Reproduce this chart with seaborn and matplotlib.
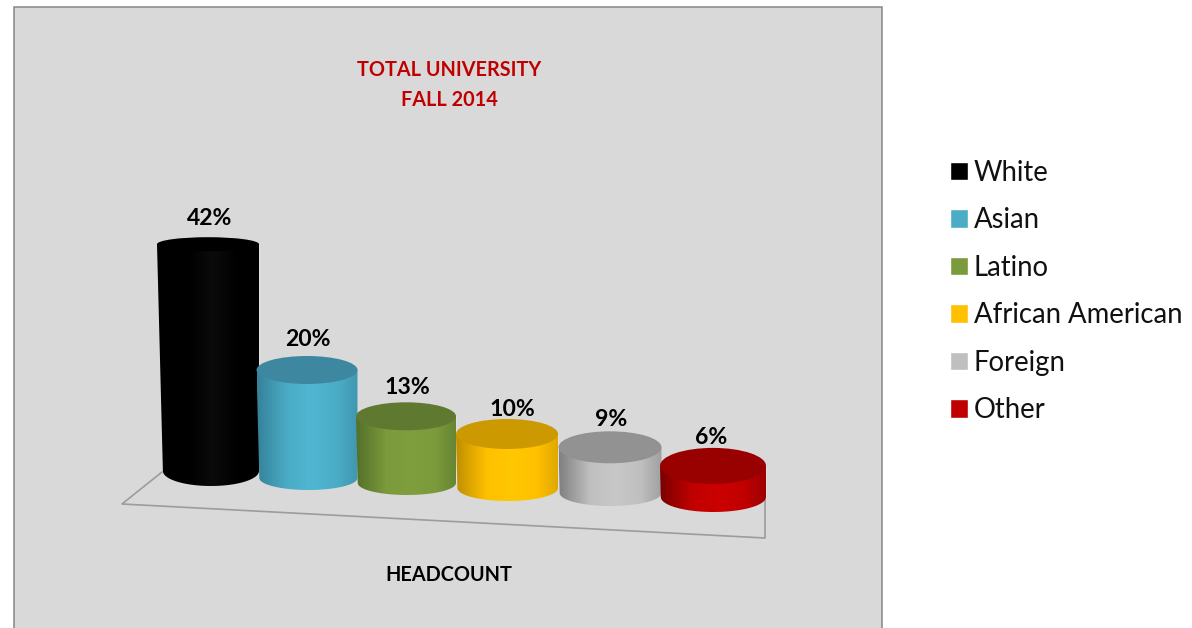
import numpy as np
import pandas as pd
import matplotlib
matplotlib.use("Agg")
import matplotlib.pyplot as plt
from matplotlib.colors import to_rgb
from matplotlib.patches import Ellipse, Rectangle
from matplotlib.path import Path
from matplotlib.transforms import Affine2D
import seaborn as sns

# --- data ---
groups = ["White", "Asian", "Latino", "African American", "Foreign", "Other"]
shares = [42, 20, 13, 10, 9, 6]
title_lines = ["TOTAL UNIVERSITY", "FALL 2014"]
axis_name = "HEADCOUNT"

# --- styles ---
base_colors = ["#000000", "#4bacc6", "#7a9a3c", "#ffc000", "#bfbfbf", "#c00000"]
edge_colors = ["#000000", "#35829a", "#54702a", "#c08f00", "#808080", "#7a0000"]
top_colors = ["#000000", "#3d88a0", "#5f7a30", "#cc9a00", "#929292", "#990000"]
center_colors = ["#0b0b0b", "#4fb6d2", "#7f9f3e", "#ffc800", "#c8c8c8", "#cc0000"]

# --- 3D layout in pixels ---
W, H = 1192, 628
PX_PER_PCT = 5.4
ZERO_PX = 490
STEP_PX = 101
center_shift = [0, -2, -4, -4, -2, 0]
widths_px = [102, 101, 100, 102, 103, 106]
base_px = [471, 478, 483, 488, 493, 497]
depth_scale = [1, 1, 0.95, 1, 0.94, 0.96]   # perspective foreshortening of each column
top_semi = [7, 14, 14, 15, 16, 18]
bot_semi = [15, 12, 12, 13, 13, 15]
label_gap = [18.5, 17, 15, 10, 12, 10]
label_dx = [2, 1, 1, 5, 1, -2]

sns.set_theme(style="white")
plt.rcParams["font.family"] = ["Lato", "DejaVu Sans"]

fig = plt.figure(figsize=(W / 100, H / 100), dpi=100, facecolor="white")
ax = fig.add_axes([0, 0, 1, 1])

df = pd.DataFrame({"group": groups, "share": shares})
sns.barplot(data=df, x="group", y="share", hue="group", order=groups, hue_order=groups,
            palette=base_colors, width=1, dodge=False, legend=True, ax=ax, saturation=1)

xlim = (-208 / STEP_PX, (W - 208) / STEP_PX)
ylim = (-(H - ZERO_PX) / PX_PER_PCT, ZERO_PX / PX_PER_PCT)
px = Affine2D().scale(1 / W, -1 / H).translate(0, 1) + fig.transFigure

# panel and floor
ax.add_patch(Rectangle((14, 7), 868, 640, transform=px, facecolor="#d9d9d9",
                       edgecolor="#868686", linewidth=1.1, zorder=0.1, clip_on=False))
ax.plot([162, 122, 765, 765], [472, 504, 538, 500], transform=px, color="#9c9c9c",
        lw=1.2, zorder=0.5)

ux = 1 / STEP_PX
uy = 1 / PX_PER_PCT
bars = [c[0] for c in ax.containers if len(c) > 0]

for i, (bar, share) in enumerate(zip(bars, shares)):
    cx = i + center_shift[i] * ux
    w = widths_px[i] * ux
    base = (ZERO_PX - base_px[i]) * uy
    height = share * depth_scale[i]
    top = base + height
    inset = 0.026 * height * PX_PER_PCT * ux
    z = 2 + i

    left_b, right_b = cx - w / 2 + inset, cx + w / 2
    bar.set_x(left_b + 0.01)
    bar.set_width(right_b - left_b - 0.02)
    bar.set_y(base)
    bar.set_height(height)
    bar.set_zorder(z)

    # body outline with rounded lower edge
    t = np.linspace(np.pi, 2 * np.pi, 60)
    bx = (left_b + right_b) / 2 + (right_b - left_b) / 2 * np.cos(t)
    by = base + bot_semi[i] * uy * np.sin(t)
    xs = np.r_[cx - w / 2, bx, cx + w / 2, cx - w / 2]
    ys = np.r_[top, by, top, top]
    outline = Path(np.c_[xs, ys])

    edge, mid, lit = map(np.array, (to_rgb(edge_colors[i]), to_rgb(base_colors[i]), to_rgb(center_colors[i])))
    pos = np.linspace(0, 1, 256)
    stops = [0, 0.3, 0.55, 0.8, 1]
    grad = np.stack([np.interp(pos, stops, [edge[c], mid[c], lit[c], mid[c], (edge[c] + mid[c]) / 2])
                     for c in range(3)], axis=-1)[None, :, :]
    im = ax.imshow(grad, extent=(cx - w / 2, cx + w / 2, base - 20 * uy, top), aspect="auto",
                   zorder=z + 0.1, interpolation="bilinear")
    im.set_clip_path(outline, ax.transData)

    ax.add_patch(Ellipse((cx, top), w, 2 * top_semi[i] * uy, facecolor=top_colors[i],
                         edgecolor="none", zorder=z + 0.2))
    ax.annotate(f"{share}%", (cx, top), xytext=(label_dx[i] * 0.72, (top_semi[i] + label_gap[i]) * 0.72),
                textcoords="offset points", ha="center", va="center",
                fontsize=16.6, fontweight="bold", color="black", zorder=20)

ax.set_xlim(xlim)
ax.set_ylim(ylim)
ax.set_axis_off()

# titles
for text, y in zip(title_lines, [70.5, 99.5]):
    ax.text(449, y, text, transform=px, ha="center", va="center", fontsize=14.3,
            fontweight="bold", color="#c00000", zorder=20)
ax.text(449, 575, axis_name, transform=px, ha="center", va="center", fontsize=14.3,
        fontweight="bold", color="black", zorder=20)

# legend
sns.move_legend(ax, loc="center left", bbox_to_anchor=(950 / W, 1 - 291.5 / H),
                bbox_transform=fig.transFigure, frameon=False, title=None,
                fontsize=19.8, handlelength=0.66, handleheight=0.66, handletextpad=0.2,
                labelspacing=0.78, borderpad=0, borderaxespad=0)
for t in ax.get_legend().get_texts():
    t.set_color("#111111")

fig.savefig("out.png", dpi=100, facecolor="white")
